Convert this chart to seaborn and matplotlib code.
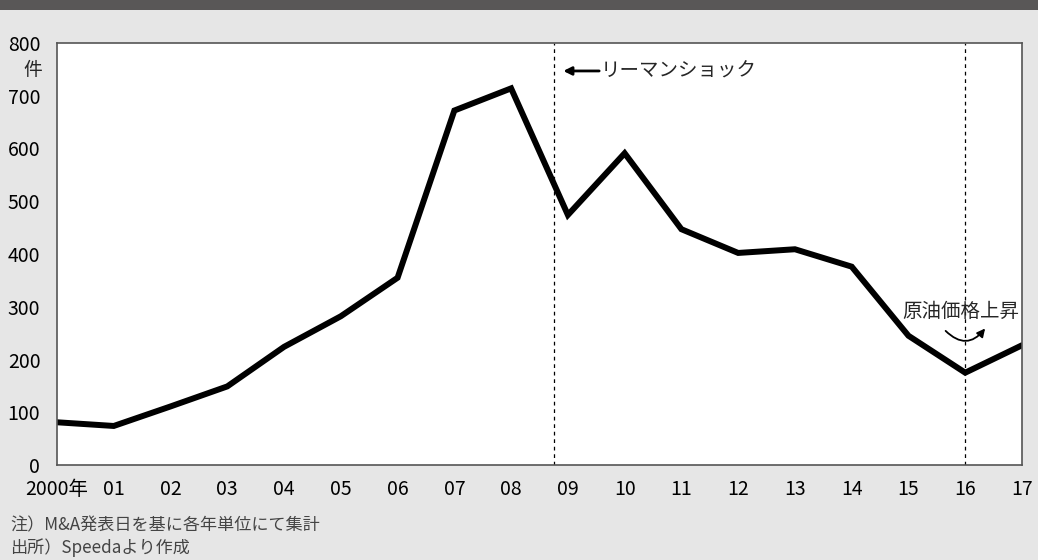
import matplotlib
matplotlib.use('Agg')
import matplotlib.pyplot as plt
import matplotlib.patches as mpatches
import seaborn as sns
import pandas as pd

# data
years = list(range(2000, 2018))
counts = [81, 74, 111, 149, 224, 282, 355, 672, 714, 474,
          591, 447, 402, 409, 376, 245, 175, 227]
year_labels = ['2000年', '01', '02', '03', '04', '05', '06', '07', '08', '09',
               '10', '11', '12', '13', '14', '15', '16', '17']
y_ticks = [0, 100, 200, 300, 400, 500, 600, 700, 800]
lehman_x = 2008.75
oil_x = 2016

d = pd.DataFrame({'year': years, 'count': counts})

sns.set_style('white')
plt.rcParams['font.family'] = ['Noto Sans CJK JP', 'DejaVu Sans']

bg = '#e6e6e6'
fig = plt.figure(figsize=(10.38, 5.6), dpi=100, facecolor=bg)
ax = fig.add_axes([57/1038, 1 - 465/560, 965/1038, 422/560])
ax.set_facecolor('white')

# header bar
fig.patches.append(mpatches.Rectangle((0, 1 - 10/560), 1, 10/560,
                                      transform=fig.transFigure,
                                      facecolor='#595757', edgecolor='none'))

sns.lineplot(data=d, x='year', y='count', color='black', linewidth=4.3,
             ax=ax, solid_joinstyle='miter')

ax.axvline(lehman_x, color='black', linestyle=(0, (3, 3)), linewidth=0.9)
ax.axvline(oil_x, color='black', linestyle=(0, (3, 3)), linewidth=0.9)

ax.set_xlim(2000, 2017)
ax.set_ylim(0, 800)
ax.set_xticks(years)
ax.set_xticklabels(year_labels)
ax.set_yticks(y_ticks)
ax.set_xlabel('')
ax.set_ylabel('')
ax.tick_params(axis='both', direction='in', length=6, width=1, color='#444444',
               labelsize=14, labelcolor='black')
ax.tick_params(axis='x', pad=10)
ax.tick_params(axis='y', pad=12)
for s in ax.spines.values():
    s.set_color('#555555')
    s.set_linewidth(1.2)

# unit (below the 800 label)
ax.text(-0.015, 0.935, '件', transform=ax.transAxes, ha='right', va='center',
        fontsize=13.5)

# annotations
ax.annotate('', xy=(lehman_x + 0.12, 747), xytext=(lehman_x + 0.85, 747),
            arrowprops=dict(arrowstyle='-|>', color='black', lw=2,
                            mutation_scale=12))
ax.text(lehman_x + 0.82, 747, 'リーマンショック', ha='left', va='center',
        fontsize=14)
ax.text(oil_x - 0.07, 292, '原油価格上昇', ha='center', va='center',
        fontsize=14)
ax.annotate('', xy=(oil_x + 0.38, 263), xytext=(oil_x - 0.38, 258),
            arrowprops=dict(arrowstyle='-|>', color='black', lw=1.3,
                            mutation_scale=12,
                            connectionstyle='arc3,rad=0.6'))

# notes
fig.text(10/1038, 1 - 525/560, '注）M&A発表日を基に各年単位にて集計',
         fontsize=12.3, color='#444444', va='center')
fig.text(10/1038, 1 - 548/560, '出所）Speedaより作成',
         fontsize=12.3, color='#444444', va='center')

fig.savefig('out.png', dpi=100, facecolor=bg)
